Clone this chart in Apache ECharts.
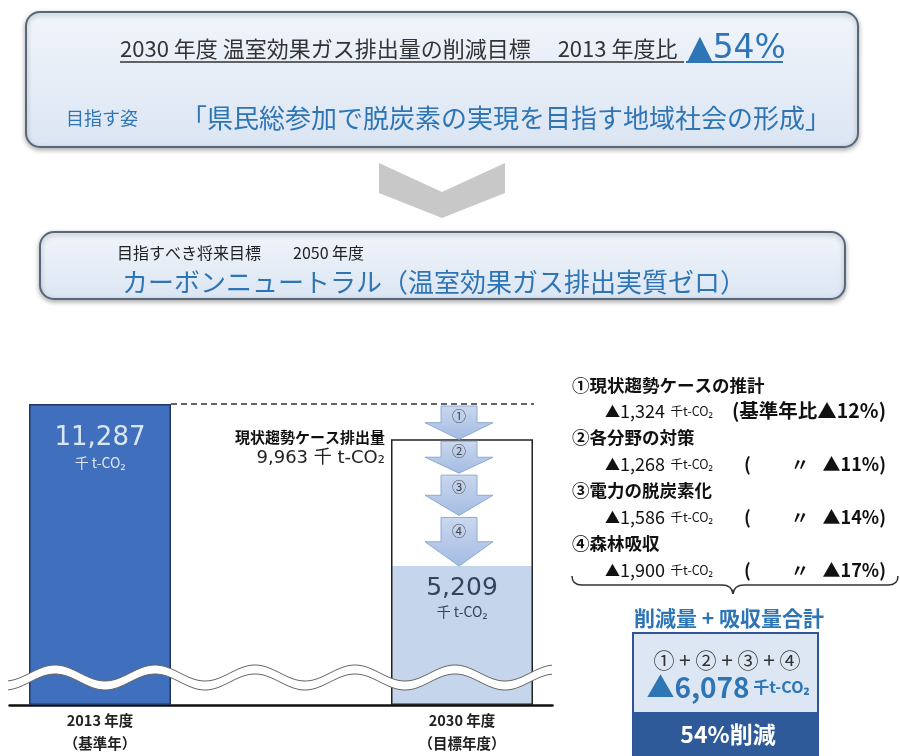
<!DOCTYPE html>
<html><head><meta charset="utf-8">
<script src="https://cdn.jsdelivr.net/npm/echarts@6/dist/echarts.min.js"></script>
<style>html,body{margin:0;padding:0;background:#fff}#c{width:900px;height:756px}</style>
</head><body><div id="c"></div>
<script>
// ---- data ----
const categories = ['2013 年度\n（基準年）', '', '2030 年度\n（目標年度）'];
const baseYearEmission = [11287, null, null];
const bauEmission = [null, null, 9963];
const targetEmission = [null, null, 5209];
const stepNames = ['①現状趨勢ケースの推計', '②各分野の対策', '③電力の脱炭素化', '④森林吸収'];
const stepMarks = ['①', '②', '③', '④'];
const stepReductions = [1324, 1268, 1586, 1900];
const stepPercents = [12, 11, 14, 17];
const arrowFrom = [11287, 9963, 8695, 7109];
const arrowTo = [9963, 8695, 7109, 5209];
const totalReduction = 6078;
const totalPercent = 54;

const JP = '"Noto Sans CJK JP", "Noto Sans", sans-serif';
const NUM = '"DejaVu Sans", "Noto Sans CJK JP", sans-serif';
const BLUE = '#2e75b6';
const fmt = v => v.toLocaleString('en-US');

const chart = echarts.init(document.getElementById('c'), null, {renderer: 'canvas'});

// ---- decorative graphics ----
const graphics = [];
function boxGrad() {
  return new echarts.graphic.LinearGradient(0, 0, 0, 1, [
    {offset: 0, color: '#f1f5fb'}, {offset: 1, color: '#dbe5f2'}]);
}
graphics.push({type: 'rect', shape: {x: 26, y: 12, width: 832, height: 135, r: 14},
  style: {fill: boxGrad(), stroke: '#56687a', lineWidth: 2, shadowBlur: 5, shadowColor: 'rgba(0,0,0,0.3)', shadowOffsetY: 2}, z: 1});
graphics.push({type: 'text', x: 120, y: 49, style: {
  text: '{a|2030 年度 温室効果ガス排出量の削減目標　 2013 年度比  }{b|▲54%}',
  align: 'left', verticalAlign: 'middle', fontFamily: JP,
  rich: {a: {fontSize: 22, fill: '#333', fontFamily: JP}, b: {fontSize: 33, fill: BLUE, fontFamily: NUM}}}, z: 3});
graphics.push({type: 'line', shape: {x1: 120, y1: 62, x2: 684, y2: 62}, style: {stroke: '#333', lineWidth: 1.5}, z: 3});
graphics.push({type: 'line', shape: {x1: 686, y1: 62, x2: 783, y2: 62}, style: {stroke: BLUE, lineWidth: 2}, z: 3});
graphics.push({type: 'text', x: 66, y: 118, style: {text: '目指す姿', fontSize: 18, fill: BLUE, fontFamily: JP, align: 'left', verticalAlign: 'middle'}, z: 3});
graphics.push({type: 'text', x: 506, y: 118, style: {text: '「県民総参加で脱炭素の実現を目指す地域社会の形成」', fontSize: 26, fill: BLUE, fontFamily: JP, align: 'center', verticalAlign: 'middle'}, z: 3});

// chevron
graphics.push({type: 'polygon', shape: {points: [[379, 163], [442, 192], [505, 163], [505, 193], [442, 218], [379, 193]]},
  style: {fill: '#c8c8c8'}, z: 1});

// box 2
graphics.push({type: 'rect', shape: {x: 40, y: 232, width: 805, height: 67, r: 14},
  style: {fill: boxGrad(), stroke: '#56687a', lineWidth: 2, shadowBlur: 5, shadowColor: 'rgba(0,0,0,0.3)', shadowOffsetY: 2}, z: 1});
graphics.push({type: 'text', x: 117, y: 253, style: {text: '目指すべき将来目標　　2050 年度', fontSize: 16, fill: '#222', fontFamily: JP, align: 'left', verticalAlign: 'middle'}, z: 3});
graphics.push({type: 'text', x: 122, y: 282, style: {text: 'カーボンニュートラル（温室効果ガス排出実質ゼロ）', fontSize: 26, fill: BLUE, fontFamily: JP, align: 'left', verticalAlign: 'middle'}, z: 3});

// wave break band (decoration)
function waveY(x) { return 673 - 8 * Math.cos(2 * Math.PI * (x - 55) / 100); }
const topPts = [], botPts = [];
for (let x = 8; x <= 552; x += 2) { topPts.push([x, waveY(x)]); botPts.push([x, waveY(x) + 9]); }
graphics.push({type: 'polygon', shape: {points: topPts.concat(botPts.slice().reverse())}, style: {fill: '#fff'}, z: 50});
graphics.push({type: 'polyline', shape: {points: topPts}, style: {stroke: '#666', lineWidth: 1, fill: null}, z: 51});
graphics.push({type: 'polyline', shape: {points: botPts}, style: {stroke: '#666', lineWidth: 1, fill: null}, z: 51});

// right-hand breakdown panel
const boldTxt = (size) => ({fontSize: size, fontWeight: 'bold', fill: '#111', fontFamily: JP, verticalAlign: 'middle'});
stepNames.forEach((name, i) => {
  const yH = 385 + i * 52.8, yV = 411 + i * 53;
  graphics.push({type: 'text', x: 572, y: yH, style: {text: name, fontSize: 17.5, fontWeight: 'bold', fill: '#111', fontFamily: JP, align: 'left', verticalAlign: 'middle'}, z: 3});
  graphics.push({type: 'text', x: 605, y: yV, style: {
    text: '{m|▲}{t|' + fmt(stepReductions[i]) + '}{u|  千t-CO₂}', align: 'left', verticalAlign: 'middle',
    rich: {m: {fontSize: 15, fill: '#111', fontFamily: JP}, t: {fontSize: 18, fill: '#111', fontFamily: JP},
           u: {fontSize: 12.5, fill: '#111', fontFamily: JP}}}, z: 3});
  if (i === 0) {
    graphics.push({type: 'text', x: 886, y: yV, style: Object.assign({text: '(基準年比▲' + stepPercents[i] + '%)', align: 'right'}, boldTxt(19.5)), z: 3});
  } else {
    graphics.push({type: 'text', x: 744, y: yV, style: Object.assign({text: '(', align: 'left'}, boldTxt(18)), z: 3});
    graphics.push({type: 'text', x: 800, y: yV, style: Object.assign({text: '〃', align: 'center'}, boldTxt(18)), z: 3});
    graphics.push({type: 'text', x: 886, y: yV, style: Object.assign({text: '▲' + stepPercents[i] + '%)', align: 'right'}, boldTxt(18)), z: 3});
  }
});
// brace (curly, opening downward)
const braceStyle = {stroke: '#333', lineWidth: 1.5, fill: null};
graphics.push({type: 'bezierCurve', shape: {x1: 572, y1: 576, x2: 582, y2: 585, cpx1: 572, cpy1: 585}, style: braceStyle, z: 3});
graphics.push({type: 'line', shape: {x1: 582, y1: 585, x2: 722, y2: 585}, style: braceStyle, z: 3});
graphics.push({type: 'bezierCurve', shape: {x1: 722, y1: 585, x2: 733, y2: 594, cpx1: 732, cpy1: 585}, style: braceStyle, z: 3});
graphics.push({type: 'bezierCurve', shape: {x1: 733, y1: 594, x2: 744, y2: 585, cpx1: 734, cpy1: 585}, style: braceStyle, z: 3});
graphics.push({type: 'line', shape: {x1: 744, y1: 585, x2: 888, y2: 585}, style: braceStyle, z: 3});
graphics.push({type: 'bezierCurve', shape: {x1: 888, y1: 585, x2: 898, y2: 576, cpx1: 898, cpy1: 585}, style: braceStyle, z: 3});

graphics.push({type: 'text', x: 729, y: 618, style: {text: '削減量 + 吸収量合計', fontSize: 21, fontWeight: 'bold', fill: BLUE, fontFamily: JP, align: 'center', verticalAlign: 'middle'}, z: 3});
// total box
graphics.push({type: 'rect', shape: {x: 633, y: 633, width: 185, height: 123}, style: {fill: '#dde7f3', stroke: '#2f5597', lineWidth: 2}, z: 2});
graphics.push({type: 'rect', shape: {x: 633, y: 712, width: 185, height: 44}, style: {fill: '#2f5a9a'}, z: 3});
graphics.push({type: 'text', x: 727, y: 660, style: {text: stepMarks.join(' + '), fontSize: 21, fill: '#333', fontFamily: JP, align: 'center', verticalAlign: 'middle'}, z: 4});
graphics.push({type: 'text', x: 728, y: 687, style: {
  text: '{t|▲' + fmt(totalReduction) + '}{u| 千t-CO₂}', align: 'center', verticalAlign: 'middle',
  rich: {t: {fontSize: 28, fontWeight: 'bold', fill: BLUE, fontFamily: JP}, u: {fontSize: 16, fontWeight: 'bold', fill: BLUE, fontFamily: JP}}}, z: 4});
graphics.push({type: 'text', x: 728, y: 734, style: {text: totalPercent + '%削減', fontSize: 23, fontWeight: 'bold', fill: '#fff', fontFamily: JP, align: 'center', verticalAlign: 'middle'}, z: 4});

const arrowGrad = () => new echarts.graphic.LinearGradient(0, 0, 0, 1, [
  {offset: 0, color: '#cad8ef'}, {offset: 1, color: '#a3bbe2'}]);

const option = {
  animation: false,
  backgroundColor: '#fff',
  grid: {left: 9.5, right: 347.5, top: 385, bottom: 51},
  xAxis: {
    type: 'category', data: categories,
    axisTick: {show: false},
    axisLine: {lineStyle: {color: '#111', width: 2.5}},
    axisLabel: {fontFamily: JP, fontWeight: 'bold', fontSize: 14.5, color: '#222', lineHeight: 23, margin: 4, interval: 0}
  },
  yAxis: {type: 'value', min: 0, max: 12000, show: false},
  series: [
    {
      type: 'bar', name: '2013', data: baseYearEmission, barWidth: 142, barGap: '-100%', z: 2,
      itemStyle: {color: '#3f6fbd', borderColor: '#1f3864', borderWidth: 1.5},
      label: {show: true, position: 'insideTop', distance: 19,
        formatter: p => '{v|' + fmt(p.value) + '}\n{u|千 t-CO₂}',
        rich: {v: {fontSize: 26, color: '#dce6f2', fontFamily: NUM, lineHeight: 30},
               u: {fontSize: 14, color: '#dce6f2', fontFamily: JP, lineHeight: 20}}}
    },
    {
      type: 'bar', name: '2030目標', data: targetEmission, barWidth: 142, barGap: '-100%', z: 2,
      itemStyle: {color: '#c5d6ec'},
      label: {show: true, position: 'insideTop', distance: 8,
        formatter: p => '{v|' + fmt(p.value) + '}\n{u|千 t-CO₂}',
        rich: {v: {fontSize: 25, color: '#34445e', fontFamily: NUM, lineHeight: 28},
               u: {fontSize: 14, color: '#34445e', fontFamily: JP, lineHeight: 20}}}
    },
    {
      type: 'bar', name: '現状趨勢', data: bauEmission, barWidth: 142, barGap: '-100%', z: 3,
      itemStyle: {color: 'rgba(255,255,255,0)', borderColor: '#222', borderWidth: 1.5},
      label: {show: true, position: [-6, -12], align: 'right', verticalAlign: 'top',
        formatter: p => '{h|現状趨勢ケース排出量}\n{v|' + fmt(p.value) + ' 千 t-CO₂}',
        rich: {h: {fontSize: 15, fontWeight: 'bold', color: '#111', fontFamily: JP, lineHeight: 20, align: 'right'},
               v: {fontSize: 18, color: '#222', fontFamily: NUM, lineHeight: 22, align: 'right'}}}
    },
    {
      type: 'custom', name: 'baseline', z: 4,
      data: [[0, 2, baseYearEmission[0]]],
      renderItem: (params, api) => {
        const p0 = api.coord([api.value(0), api.value(2)]);
        const p1 = api.coord([api.value(1), api.value(2)]);
        return {type: 'line', shape: {x1: p0[0] + 71, y1: p0[1], x2: p1[0] + 72, y2: p1[1]},
          style: {stroke: '#333', lineWidth: 1.5, lineDash: [6, 4]}};
      }
    },
    {
      type: 'custom', name: 'steps', z: 5,
      data: arrowFrom.map((f, i) => [2, f, arrowTo[i], i]),
      renderItem: (params, api) => {
        const top = api.coord([api.value(0), api.value(1)]);
        const tip = api.coord([api.value(0), api.value(2)]);
        const cx = top[0] - 3;
        const yTop = top[1] + 2, yTip = tip[1];
        const yHead = yTip - (yTip - yTop) * 0.5;
        const bw = 18, hw = 34;
        return {type: 'group', children: [
          {type: 'polygon', shape: {points: [[cx - bw, yTop], [cx + bw, yTop], [cx + bw, yHead], [cx + hw, yHead], [cx, yTip], [cx - hw, yHead], [cx - bw, yHead]]},
            style: {fill: arrowGrad(), stroke: '#8fa9d5', lineWidth: 1}},
          {type: 'text', style: {text: stepMarks[api.value(3)], x: cx, y: (yTop + yHead) / 2 + 1, align: 'center', verticalAlign: 'middle', fontSize: 14, fill: '#444', fontFamily: JP}}
        ]};
      }
    }
  ],
  graphic: {elements: graphics}
};
chart.setOption(option);
</script>
</body></html>
